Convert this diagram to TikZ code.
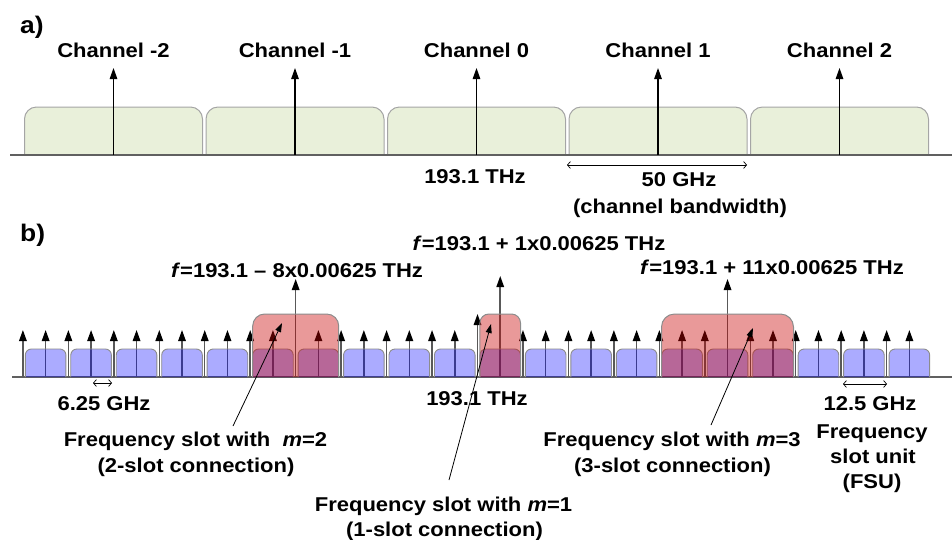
\documentclass[tikz,border=0pt]{standalone}
\usepackage{fontspec}
\setmainfont{Liberation Sans}[FakeStretch=1.1]
\usetikzlibrary{arrows.meta}
\definecolor{chgreen}{RGB}{233,240,218}
\definecolor{chedge}{RGB}{165,165,165}
\definecolor{axisgray}{RGB}{96,96,96}
\definecolor{slotred}{RGB}{200,0,0}
\newcommand{\tbox}[6]{\path[#1, rounded corners=#6] (#2,#5) -- (#2,#4) -- (#3,#4) -- (#3,#5);}
\begin{document}
\begin{tikzpicture}[x=1pt,y=-1pt,
  lbl/.style={inner sep=0pt, anchor=base, font=\fontsize{20}{24}\selectfont\bfseries},
  part/.style={inner sep=0pt, anchor=base west, font=\fontsize{24}{28}\selectfont\bfseries},
  axis/.style={draw=axisgray, line width=2pt},
  chbox/.style={draw=chedge, fill=chgreen, line width=1pt},
  carrow/.style={draw=black, line width=1.2pt, -{Triangle[width=7.5pt,length=11pt]}},
  garrow/.style={draw=black!65, line width=1.5pt, -{Triangle[width=7.5pt,length=11pt,black]}},
  fsu/.style={draw=black!45, fill=blue, fill opacity=0.33, line width=0.9pt},
  slot/.style={draw=black!45, fill=slotred, fill opacity=0.4, line width=1pt},
  pointer/.style={draw=black, line width=0.8pt, -{Triangle[width=6pt,length=9pt]}},
  span/.style={draw=black, line width=0.7pt, {Straight Barb[length=3pt,width=7pt]}-{Straight Barb[length=3pt,width=7pt]}},
]
\useasboundingbox (0,0) rectangle (952,539);

% ---------------- a) ----------------
\node[part] (la) at (20,33) {a)};
\foreach \k in {-2,...,2}{
  \pgfmathsetmacro\cx{476.5+181.5*\k}
  \tbox{chbox}{\cx-89}{\cx+89}{107}{154.5}{12pt}
}
\coordinate (aL) at (10,154.5);
\coordinate (aR) at (952,154.5);
\draw[axis] (aL) -- (aR);
\foreach \k in {-2,...,2}{
  \pgfmathsetmacro\cx{476.5+181.5*\k}
  \coordinate (ab\k) at (\cx,154.5);
  \coordinate (at\k) at (\cx,68);
  \draw[carrow] (ab\k) -- (at\k);
  \node[lbl] (ch\k) at (\cx,57) {Channel \k};
}
\node[lbl] (fa) at (475,183) {193.1 THz};
\coordinate (s50a) at (567,165);
\coordinate (s50b) at (747,165);
\draw[span] (s50a) -- (s50b);
\node[lbl] (bw1) at (679,186.7) {50 GHz};
\node[lbl] (bw2) at (680,213.5) {(channel bandwidth)};

% ---------------- b) ----------------
\node[part] (lb) at (20,241.5) {b)};
\coordinate (bL) at (12,377);
\coordinate (bR) at (952,377);
\draw[axis] (bL) -- (bR);
% grid arrows (6.25 GHz)
\foreach \n in {-20,...,-9,-7,-6,-5,-4,-3,-2,-1,2,3,4,5,6,7,8,9,10,12,13,14,15,16,17,18,19}{
  \pgfmathsetmacro\xx{477.5+22.73*\n}
  \coordinate (gb\n) at (\xx,377);
  \coordinate (gt\n) at (\xx,330);
  \draw[garrow] (gb\n) -- (gt\n);
}
% tall arrows
\foreach \n/\top in {-8/279, 0/314, 1/276, 11/279}{
  \pgfmathsetmacro\xx{477.5+22.73*\n}
  \coordinate (gb\n) at (\xx,377);
  \coordinate (gt\n) at (\xx,\top);
  \draw[garrow] (gb\n) -- (gt\n);
}
% frequency slot units (12.5 GHz)
\foreach \n in {-19,-17,...,19}{
  \pgfmathsetmacro\xx{477.5+22.73*\n}
  \tbox{fsu}{\xx-20.3}{\xx+20.3}{349}{377}{6pt}
}
% frequency slots
\tbox{slot}{295.7-43}{295.7+43}{314}{377}{12pt}
\tbox{slot}{500.2-20.3}{500.2+20.3}{314}{377}{9pt}
\tbox{slot}{727.5-66}{727.5+66}{314}{377}{13pt}

\node[lbl] (f2) at (297,277) {\textit{f}=193.1 – 8x0.00625 THz};
\node[lbl] (f1) at (539,250) {\textit{f}=193.1 + 1x0.00625 THz};
\node[lbl] (f3) at (772,274) {\textit{f}=193.1 + 11x0.00625 THz};

% spacing marks
\coordinate (sa1) at (93,383);
\coordinate (sa2) at (112,383);
\draw[span] (sa1) -- (sa2);
\node[lbl] (g625) at (104,410.7) {6.25 GHz};
\node[lbl] (fb) at (477,405) {193.1 THz};
\coordinate (sb1) at (843,384);
\coordinate (sb2) at (887,384);
\draw[span] (sb1) -- (sb2);
\node[lbl] (g125) at (870,410) {12.5 GHz};
\node[lbl] (fsu1) at (872,438) {Frequency};
\node[lbl] (fsu2) at (873,463) {slot unit};
\node[lbl] (fsu3) at (872,488) {(FSU)};

% slot descriptions
\node[lbl] (m2a) at (195.5,446.7) {Frequency slot with \ \textit{m}=2};
\node[lbl] (m2b) at (196,472.7) {(2-slot connection)};
\node[lbl] (m3a) at (672,446) {Frequency slot with \textit{m}=3};
\node[lbl] (m3b) at (672.5,472) {(3-slot connection)};
\node[lbl] (m1a) at (443.5,511.7) {Frequency slot with \textit{m}=1};
\node[lbl] (m1b) at (444.5,536) {(1-slot connection)};

% pointers
\coordinate (p2s) at (233,426);
\coordinate (p2e) at (282,323);
\draw[pointer] (p2s) -- (p2e);
\coordinate (p1s) at (449,480);
\coordinate (p1e) at (491,324);
\draw[pointer] (p1s) -- (p1e);
\coordinate (p3s) at (711,425);
\coordinate (p3e) at (753,328);
\draw[pointer] (p3s) -- (p3e);
\end{tikzpicture}
\end{document}
